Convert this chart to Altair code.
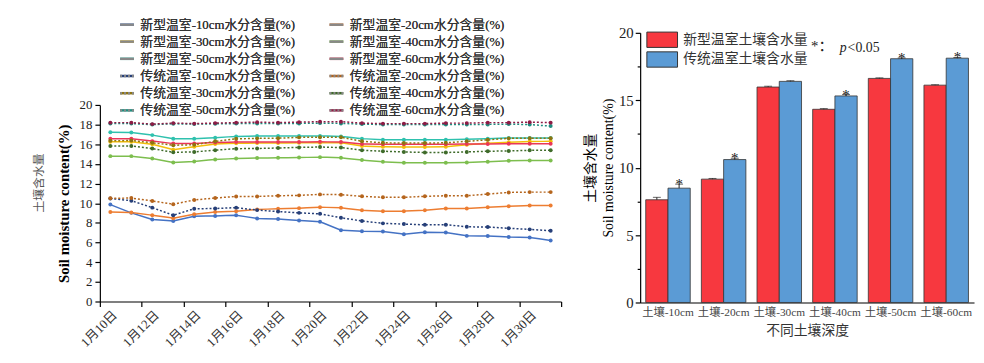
import altair as alt
import pandas as pd

FONT = "Liberation Serif, Noto Sans CJK SC"

# ---------------- left panel data ----------------
days = list(range(10, 32))
series_names = [
    "新型温室-10cm水分含量(%)", "新型温室-20cm水分含量(%)",
    "新型温室-30cm水分含量(%)", "新型温室-40cm水分含量(%)",
    "新型温室-50cm水分含量(%)", "新型温室-60cm水分含量(%)",
    "传统温室-10cm水分含量(%)", "传统温室-20cm水分含量(%)",
    "传统温室-30cm水分含量(%)", "传统温室-40cm水分含量(%)",
    "传统温室-50cm水分含量(%)", "传统温室-60cm水分含量(%)",
]
new_10 = [9.86, 9.02, 8.35, 8.2, 8.68, 8.7, 8.78, 8.45, 8.4, 8.25, 8.12, 7.25, 7.15, 7.12, 6.85, 7.05, 7.02, 6.68, 6.67, 6.57, 6.52, 6.2]
new_20 = [9.1, 9.05, 8.78, 8.48, 8.88, 9.1, 9.18, 9.36, 9.44, 9.5, 9.6, 9.53, 9.29, 9.19, 9.19, 9.29, 9.46, 9.46, 9.59, 9.69, 9.76, 9.76]
new_30 = [16.25, 16.25, 16.0, 15.45, 15.75, 16.03, 16.1, 16.12, 16.12, 16.15, 16.15, 16.15, 15.82, 15.75, 15.72, 15.72, 15.75, 15.95, 16.1, 16.2, 16.28, 16.3]
new_40 = [14.79, 14.79, 14.55, 14.15, 14.25, 14.45, 14.55, 14.6, 14.62, 14.65, 14.69, 14.62, 14.39, 14.22, 14.12, 14.12, 14.12, 14.15, 14.22, 14.32, 14.35, 14.35]
new_50 = [17.23, 17.2, 16.93, 16.57, 16.57, 16.67, 16.8, 16.83, 16.83, 16.85, 16.85, 16.8, 16.57, 16.47, 16.47, 16.47, 16.47, 16.5, 16.57, 16.64, 16.64, 16.64]
new_60 = [16.55, 16.55, 16.32, 16.07, 16.08, 16.18, 16.22, 16.22, 16.22, 16.23, 16.25, 16.23, 16.02, 16.0, 16.0, 16.0, 16.0, 16.02, 16.03, 16.05, 16.05, 16.05]
old_10 = [10.48, 10.26, 9.55, 8.78, 9.44, 9.46, 9.55, 9.3, 9.15, 9.02, 8.92, 8.52, 8.2, 7.95, 7.88, 7.8, 7.82, 7.6, 7.58, 7.45, 7.34, 7.2]
old_20 = [10.5, 10.53, 10.23, 9.9, 10.33, 10.53, 10.69, 10.69, 10.76, 10.8, 10.9, 10.87, 10.7, 10.6, 10.6, 10.7, 10.76, 10.76, 10.93, 11.1, 11.13, 11.13]
old_30 = [16.35, 16.38, 16.15, 15.9, 15.95, 16.3, 16.55, 16.6, 16.62, 16.7, 16.72, 16.72, 16.3, 16.15, 16.12, 16.12, 16.15, 16.3, 16.45, 16.6, 16.62, 16.62]
old_40 = [15.83, 15.83, 15.56, 15.18, 15.22, 15.4, 15.55, 15.57, 15.62, 15.68, 15.72, 15.66, 15.39, 15.29, 15.22, 15.16, 15.16, 15.22, 15.29, 15.32, 15.38, 15.38]
old_50 = [18.12, 18.1, 18.0, 18.08, 18.05, 18.08, 18.1, 18.12, 18.12, 18.12, 18.15, 18.12, 18.05, 18.0, 18.0, 18.0, 18.0, 18.02, 18.02, 18.05, 18.0, 17.85]
old_60 = [18.2, 18.2, 18.05, 18.15, 18.1, 18.15, 18.2, 18.25, 18.2, 18.25, 18.3, 18.3, 18.15, 18.1, 18.1, 18.1, 18.15, 18.15, 18.2, 18.2, 18.25, 18.2]
series_values = [new_10, new_20, new_30, new_40, new_50, new_60,
                 old_10, old_20, old_30, old_40, old_50, old_60]
series_colors = ["#4472C4", "#ED7D31", "#F2BE0C", "#7DBE4E", "#2FC1AE", "#EA3658",
                 "#263F78", "#B5651D", "#8E7410", "#3F6B2A", "#1E8C7E", "#8E1B45"]
series_dash = [[20, 0.0001]] * 6 + [[2, 2]] * 6
label_days = list(range(10, 31, 2))
tick_days = [d - 0.5 for d in range(10, 33, 2)]
left_ytitle_cn = ["土壤含水量"]

# ---------------- right panel data ----------------
depths = ["土壤-10cm", "土壤-20cm", "土壤-30cm", "土壤-40cm", "土壤-50cm", "土壤-60cm"]
groups = ["新型温室土壤含水量", "传统温室土壤含水量"]
new_vals = [7.62, 9.15, 15.98, 14.33, 16.62, 16.12]
old_vals = [8.48, 10.6, 16.4, 15.32, 18.08, 18.12]
new_err = [0.18, 0.05, 0.06, 0.05, 0.04, 0.03]
old_err = [0.3, 0.1, 0.05, 0.1, 0.06, 0.05]
new_star = ["", "", "", "", "", ""]
old_star = ["*", "*", "", "*", "*", "*"]
bar_colors = ["#F7383F", "#5B9BD5"]

rows = []
for name, vals in zip(series_names, series_values):
    for d, v in zip(days, vals):
        rows.append({"series": name, "day": d, "value": v})
df_lines = pd.DataFrame(rows)

brows = []
for g, vals, errs, stars in [(groups[0], new_vals, new_err, new_star),
                             (groups[1], old_vals, old_err, old_star)]:
    for dep, v, e, s in zip(depths, vals, errs, stars):
        brows.append({"depth": dep, "group": g, "value": v, "top": v + e, "star": s})
df_bars = pd.DataFrame(brows)

# ---------------- left panel ----------------
LH = 272  # panel height (plot tops of both panels are aligned)
xl = alt.X(
    "day:Q",
    scale=alt.Scale(domain=[9.5, 31.5], nice=False, zero=False),
    axis=alt.Axis(
        values=sorted(tick_days + label_days), title=None, grid=False,
        labelExpr="datum.value % 1 == 0 ? '1月' + datum.value + '日' : ''",
        tickOpacity={"condition": {"test": "datum.value % 1 == 0", "value": 0}, "value": 1},
        labelAngle=-45, labelFontSize=13, labelOverlap=False, labelFlush=False,
        tickSize=5, labelPadding=2, labelColor="#333",
    ),
)
yl = alt.Y(
    "value:Q",
    scale=alt.Scale(domain=[0, 20], nice=False, range=[LH, LH - 199]),
    axis=alt.Axis(values=list(range(0, 21, 2)), title="Soil moisture content(%)",
                  titleFontWeight="bold", titleFontSize=15, titlePadding=8,
                  labelFontSize=13, tickSize=5, labelPadding=3, grid=False,
                  labelOverlap=False),
)
legend_left = alt.Legend(
    title=None, orient="none", legendX=19, legendY=-17, columns=2, direction="horizontal",
    symbolType="stroke", symbolSize=196, symbolStrokeWidth=2.5, symbolOpacity=1,
    labelFontSize=13, labelFont=FONT, labelLimit=400, labelOffset=5,
    columnPadding=29, rowPadding=1.4, labelColor="#333",
)
color_l = alt.Color("series:N", scale=alt.Scale(domain=series_names, range=series_colors),
                    legend=legend_left, sort=series_names)
dash_l = alt.StrokeDash("series:N", scale=alt.Scale(domain=series_names, range=series_dash),
                        legend=legend_left, sort=series_names)

base_l = alt.Chart(df_lines)
lines = base_l.mark_line(strokeWidth=1.5).encode(x=xl, y=yl, color=color_l, strokeDash=dash_l,
                                                 detail="series:N")
points = base_l.mark_point(filled=True, size=16, opacity=1).encode(x=xl, y=yl, color=color_l)
cn_title_l = alt.Chart(pd.DataFrame({"t": left_ytitle_cn})).mark_text(
    angle=270, fontSize=12, color="#555", font=FONT
).encode(text="t:N", x=alt.value(-62), y=alt.value(152))

left = alt.layer(lines, points, cn_title_l).properties(width=467, height=LH)

# ---------------- right panel ----------------
xr = alt.X("depth:N", sort=depths,
           scale=alt.Scale(paddingInner=0.2, paddingOuter=0.1),
           axis=alt.Axis(title="不同土壤深度", labelAngle=0, ticks=False, labelFontSize=11.5,
                         labelColor="#444", titleFontSize=14, titleFontWeight="normal",
                         titleColor="#333", labelPadding=4, titlePadding=6))
xo = alt.XOffset("group:N", sort=groups, scale=alt.Scale(paddingInner=0, paddingOuter=0))
yr_scale = alt.Scale(domain=[0, 20], nice=False, zero=True)
yr_axis = alt.Axis(values=[0, 2.5, 5, 7.5, 10, 12.5, 15, 17.5, 20],
                   labelExpr="datum.value % 5 == 0 ? datum.label : ''",
                   tickSize={"condition": {"test": "datum.value % 5 != 0", "value": 3}, "value": 5},
                   title=["土壤含水量", "Soil moisture content(%)"],
                   titleFontSize=14, titleFontWeight="normal", titleLineHeight=18,
                   titlePadding=3, labelFontSize=15, labelPadding=2, grid=False,
                   labelOverlap=False)
yr = alt.Y("value:Q", scale=yr_scale, axis=yr_axis)
yr_top = alt.Y("top:Q", scale=yr_scale, axis=yr_axis)
legend_right = alt.Legend(
    title=None, orient="none", legendX=15.3, legendY=0,
    symbolType="M-3,-1.5H3V1.5H-3Z", symbolSize=107, symbolStrokeColor="#333",
    symbolStrokeWidth=1, symbolOpacity=1, labelFontSize=14, labelFont=FONT,
    labelOffset=14.3, rowPadding=0, labelColor="#333", labelLimit=300,
)
base_r = alt.Chart(df_bars)
bars = base_r.mark_bar(stroke="#333", strokeWidth=0.8).encode(
    x=xr, xOffset=xo, y=yr,
    color=alt.Color("group:N", sort=groups,
                    scale=alt.Scale(domain=groups, range=bar_colors), legend=legend_right))
err_rule = base_r.mark_rule(color="#222", strokeWidth=1).encode(
    x=xr, xOffset=xo, y=yr, y2="top:Q")
err_cap = base_r.mark_tick(color="#222", thickness=1, size=8).encode(
    x=xr, xOffset=xo, y=yr_top)
stars = base_r.mark_text(fontSize=15, baseline="alphabetic", dy=5, color="#111", font=FONT).encode(
    x=xr, xOffset=xo, y=yr_top, text="star:N")

note_star = alt.Chart(pd.DataFrame({"t": ["*："]})).mark_text(
    fontSize=15, align="left", baseline="middle", font=FONT, color="#222"
).encode(text="t:N", x=alt.value(173), y=alt.value(13))
note_p = alt.Chart(pd.DataFrame({"t": ["p"]})).mark_text(
    fontSize=14, align="left", baseline="middle", font=FONT, fontStyle="italic", color="#222"
).encode(text="t:N", x=alt.value(202), y=alt.value(15))
note_v = alt.Chart(pd.DataFrame({"t": ["<0.05"]})).mark_text(
    fontSize=14, align="left", baseline="middle", font=FONT, color="#222"
).encode(text="t:N", x=alt.value(210), y=alt.value(15))

right = alt.layer(bars, err_rule, err_cap, stars, note_star, note_p, note_v).properties(
    width=338, height=273)

chart = alt.hconcat(left, right, spacing=13).resolve_scale(color="independent").properties(
    padding={"left": 25, "top": 6, "right": 2, "bottom": 2}
).configure_view(stroke=None).configure_axis(
    labelFont=FONT, titleFont=FONT, domainColor="#000", tickColor="#000",
    labelColor="#222", titleColor="#000", domainWidth=1.2, tickWidth=1.2,
).configure_text(font=FONT)

chart.save("out.html", embed_options={"renderer": "svg", "actions": False})
